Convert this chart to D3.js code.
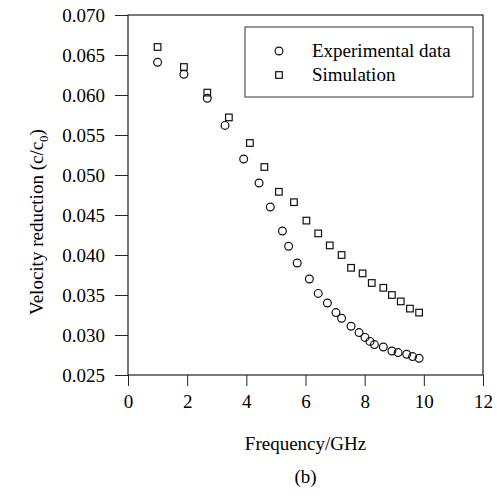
<!DOCTYPE html>
<html>
<head>
<meta charset="utf-8">
<script src="https://cdn.jsdelivr.net/npm/d3@7"></script>
<style>
  body { margin: 0; background: #fff; }
  svg { display: block; }
  text { font-family: "Liberation Serif", "Times New Roman", serif; fill: #000; }
  .axis path, .axis line { stroke: #222; }
</style>
</head>
<body>
<svg width="497" height="496"></svg>
<script>
// experimental data (circles)
const expFreq = [1.0, 1.89, 2.68, 3.28, 3.91, 4.43, 4.81, 5.22, 5.43, 5.72, 6.13, 6.43, 6.74, 7.03, 7.22, 7.54, 7.81, 8.01, 8.18, 8.33, 8.63, 8.92, 9.13, 9.42, 9.62, 9.84];
const expVel  = [0.0641, 0.0626, 0.0596, 0.0562, 0.0520, 0.0490, 0.0460, 0.0430, 0.0411, 0.0390, 0.0370, 0.0352, 0.0340, 0.0328, 0.0321, 0.0311, 0.0303, 0.0297, 0.0292, 0.0288, 0.0285, 0.0280, 0.0278, 0.0276, 0.0273, 0.0271];

// simulation (squares)
const simFreq = [1.0, 1.89, 2.68, 3.41, 4.12, 4.61, 5.10, 5.61, 6.03, 6.43, 6.82, 7.22, 7.54, 7.93, 8.24, 8.63, 8.92, 9.22, 9.53, 9.84];
const simVel  = [0.0660, 0.0635, 0.0603, 0.0572, 0.0540, 0.0510, 0.0479, 0.0466, 0.0443, 0.0427, 0.0412, 0.0400, 0.0384, 0.0377, 0.0365, 0.0359, 0.0350, 0.0342, 0.0333, 0.0328];

const xTicks = [0, 2, 4, 6, 8, 10, 12];
const yTicks = [0.025, 0.030, 0.035, 0.040, 0.045, 0.050, 0.055, 0.060, 0.065, 0.070];

const svg = d3.select('svg');
const plotLeft = 128, plotRight = 483, plotTop = 15, plotBottom = 375;
const fs = 19;

const xScale = d3.scaleLinear().domain([0, 12]).range([plotLeft, plotRight]);
const yScale = d3.scaleLinear().domain([0.025, 0.070]).range([plotBottom, plotTop]);

// frame
svg.append('rect')
  .attr('x', plotLeft).attr('y', plotTop)
  .attr('width', plotRight - plotLeft).attr('height', plotBottom - plotTop)
  .attr('fill', 'none').attr('stroke', '#222').attr('stroke-width', 1.2);

svg.append('g')
  .attr('class', 'axis')
  .attr('transform', `translate(0, ${plotBottom})`)
  .call(d3.axisBottom(xScale).tickValues(xTicks).tickSize(11).tickPadding(9).tickFormat(d3.format('d')))
  .call(g => g.select('.domain').remove())
  .selectAll('text').attr('font-size', fs).style('font-family', '"Liberation Serif", serif');

svg.append('g')
  .attr('class', 'axis')
  .attr('transform', `translate(${plotLeft}, 0)`)
  .call(d3.axisLeft(yScale).tickValues(yTicks).tickSize(13).tickPadding(10).tickFormat(d3.format('.3f')))
  .call(g => g.select('.domain').remove())
  .selectAll('text').attr('font-size', fs).style('font-family', '"Liberation Serif", serif');

// markers
const expPts = expFreq.map((f, i) => [f, expVel[i]]);
const simPts = simFreq.map((f, i) => [f, simVel[i]]);

svg.append('g').selectAll('rect')
  .data(simPts).enter().append('rect')
  .attr('x', d => xScale(d[0]) - 3.3)
  .attr('y', d => yScale(d[1]) - 3.3)
  .attr('width', 6.6).attr('height', 6.6)
  .attr('fill', 'none').attr('stroke', '#111').attr('stroke-width', 1.2);

svg.append('g').selectAll('circle')
  .data(expPts).enter().append('circle')
  .attr('cx', d => xScale(d[0]))
  .attr('cy', d => yScale(d[1]))
  .attr('r', 3.9)
  .attr('fill', 'none').attr('stroke', '#111').attr('stroke-width', 1.2);

// legend
svg.append('rect')
  .attr('x', 245).attr('y', 27).attr('width', 228).attr('height', 70)
  .attr('fill', 'none').attr('stroke', '#333').attr('stroke-width', 1);
svg.append('circle').attr('cx', 279).attr('cy', 51).attr('r', 3.9)
  .attr('fill', 'none').attr('stroke', '#111').attr('stroke-width', 1.2);
svg.append('rect').attr('x', 279 - 3.3).attr('y', 75 - 3.3).attr('width', 6.6).attr('height', 6.6)
  .attr('fill', 'none').attr('stroke', '#111').attr('stroke-width', 1.2);
svg.append('text').attr('x', 312).attr('y', 57).attr('font-size', fs).text('Experimental data');
svg.append('text').attr('x', 312).attr('y', 81).attr('font-size', fs).text('Simulation');

// axis labels
svg.append('text')
  .attr('x', (plotLeft + plotRight) / 2).attr('y', 450)
  .attr('text-anchor', 'middle').attr('font-size', fs)
  .text('Frequency/GHz');

const yl = svg.append('text')
  .attr('transform', `translate(43, 222) rotate(-90)`)
  .attr('text-anchor', 'middle').attr('font-size', fs);
yl.append('tspan').text('Velocity reduction (c/c');
yl.append('tspan').attr('font-size', 13).attr('dy', 5).text('0');
yl.append('tspan').attr('dy', -5).text(')');

svg.append('text')
  .attr('x', (plotLeft + plotRight) / 2).attr('y', 483)
  .attr('text-anchor', 'middle').attr('font-size', fs)
  .text('(b)');
</script>
</body>
</html>
